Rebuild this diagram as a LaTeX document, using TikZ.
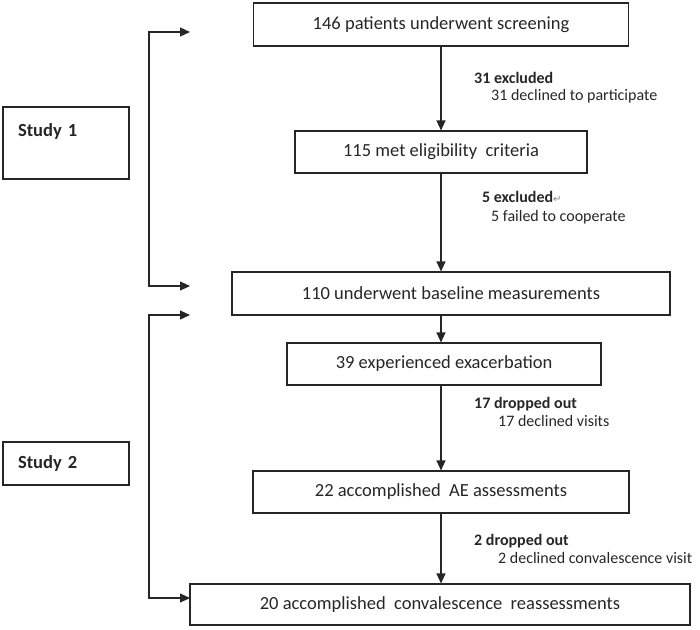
\documentclass[tikz,border=0pt]{standalone}
\usepackage{fontspec}
\setmainfont{Carlito}
\newfontfamily\symfont{DejaVu Sans}
\usetikzlibrary{arrows.meta}
\definecolor{ink}{HTML}{262626}

\begin{document}
\begin{tikzpicture}[x=1pt,y=-1pt,ink,
    box/.style={draw,line width=1.1pt,minimum height=42pt,inner sep=0pt,
      font=\fontsize{18.5}{22}\selectfont},
    studybox/.style={draw,line width=1.1pt,inner xsep=15pt,inner ysep=0pt,
      text width=96pt,align=left,font=\fontsize{18.5}{22}\selectfont\bfseries},
    note/.style={anchor=base west,inner sep=0pt,font=\fontsize{16}{19}\selectfont},
    arr/.style={line width=1.1pt,-{Triangle[length=10pt,width=9pt]}},
    twoarr/.style={line width=1.1pt,{Triangle[length=10pt,width=9pt]}-{Triangle[length=10pt,width=9pt]}}]
  \useasboundingbox (0,0) rectangle (700,629);

  % flow boxes
  \node[box,minimum width=375pt,minimum height=43pt] (scr) at (441,24.5) {146 patients underwent screening};
  \node[box,minimum width=292pt] (elig) at (441,152) {115 met eligibility \ criteria};
  \node[box,minimum width=438pt,minimum height=43pt] (base) at (451,293.5) {110 underwent baseline measurements};
  \node[box,minimum width=314pt] (exac) at (444,364) {39 experienced exacerbation};
  \node[box,minimum width=376pt] (ae) at (441,492) {22 accomplished \ AE assessments};
  \node[box,minimum width=500pt,minimum height=41pt] (conv) at (440,604.5) {20 accomplished \ convalescence \ reassessments};

  % study boxes
  \node[studybox,minimum height=72pt,text depth=25pt] (s1) at (66,143) {Study 1};
  \node[studybox,minimum height=43pt] (s2) at (66,463.5) {Study 2};

  % main arrows
  \draw[arr] (scr.south) -- (elig.north);
  \draw[arr] (elig.south) -- (base.north -| elig.south);
  \draw[arr] (base.south -| scr.south) -- (exac.north -| scr.south);
  \draw[arr] (exac.south -| ae.north) -- (ae.north);
  \draw[arr] (ae.south) -- (conv.north -| ae.south);

  % brackets
  \coordinate (t1) at (190,32);
  \coordinate (t2) at (190,286);
  \coordinate (t3) at (190,315);
  \coordinate (t4) at (190,598);
  \coordinate (sp1) at (149,150);
  \coordinate (sp2) at (149,450);
  \draw[twoarr] (t1) -| (sp1) |- (t2);
  \draw[twoarr] (t3) -| (sp2) |- (t4);

  % exclusions
  \node[note,font=\fontsize{16}{19}\selectfont\bfseries] (ex1) at (474,83) {31 excluded};
  \node[note] (ex1r) at (491,100) {31 declined to participate};
  \node[note,font=\fontsize{16}{19}\selectfont\bfseries] (ex2) at (482,202) {5 excluded{\mdseries\color{gray}\symfont\fontsize{10}{10}\selectfont ↵}};
  \node[note] (ex2r) at (491,221) {5 failed to cooperate};
  \node[note,font=\fontsize{16}{19}\selectfont\bfseries] (dr1) at (474,408) {17 dropped out};
  \node[note] (dr1r) at (498,426) {17 declined visits};
  \node[note,font=\fontsize{16}{19}\selectfont\bfseries] (dr2) at (474,545) {2 dropped out};
  \node[note] (dr2r) at (498,563) {2 declined convalescence visit};
\end{tikzpicture}
\end{document}
